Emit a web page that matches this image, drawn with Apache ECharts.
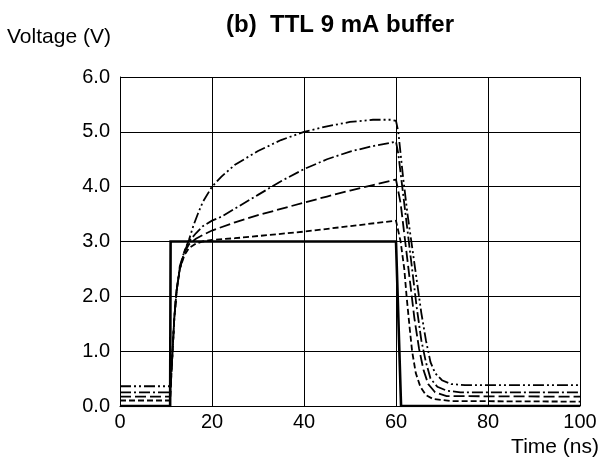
<!DOCTYPE html>
<html>
<head>
<meta charset="utf-8">
<script src="https://cdn.jsdelivr.net/npm/echarts@6/dist/echarts.min.js"></script>
<style>
html,body{margin:0;padding:0;background:#fff;}
#chart{width:600px;height:463px;}
</style>
</head>
<body>
<div id="chart"></div>
<script>
// ---- data ----
var titleText = '(b)  TTL 9 mA buffer';
var xName = 'Time (ns)';
var yName = 'Voltage (V)';
var xTicks = [0, 20, 40, 60, 80, 100];
var yTicks = [0, 1, 2, 3, 4, 5, 6];

// input step (solid)
var inputT = [0, 10.9, 11.0, 60.0, 61.1, 100];
var inputV = [0, 0, 3.0, 3.0, 0, 0];

// short dash
var shortT = [0, 10.9, 11.3, 11.8, 12.3, 13, 14, 15, 16.5, 18, 20, 25, 30, 40, 50, 60, 61, 61.8, 62.3, 63, 63.5, 64.3, 65.3, 66.5, 68, 72, 100];
var shortV = [0.1, 0.1, 0.8, 1.6, 2.1, 2.5, 2.75, 2.88, 2.96, 3.0, 3.03, 3.06, 3.1, 3.18, 3.28, 3.38, 3.0, 2.5, 2.0, 1.4, 1.0, 0.6, 0.35, 0.2, 0.13, 0.09, 0.08];

// long dash
var longT = [0, 10.9, 11.3, 11.8, 12.3, 13, 14, 15, 16.5, 18, 20, 25, 30, 40, 45, 50, 55, 60, 61, 62, 63, 64, 65, 66, 67, 68.5, 71, 100];
var longV = [0.17, 0.17, 0.8, 1.6, 2.1, 2.5, 2.8, 2.95, 3.05, 3.12, 3.2, 3.35, 3.48, 3.71, 3.82, 3.93, 4.03, 4.13, 3.7, 3.0, 2.3, 1.6, 1.05, 0.65, 0.4, 0.25, 0.18, 0.17];

// dash-dot
var ddT = [0, 10.9, 11.3, 11.8, 12.3, 13, 14, 15, 16.5, 18, 20, 22, 25, 30, 35, 40, 45, 50, 55, 60, 60.5, 61.5, 62.5, 63.5, 64.5, 65.5, 66.5, 67.5, 69, 71, 74, 100];
var ddV = [0.25, 0.25, 0.8, 1.6, 2.1, 2.5, 2.82, 3.0, 3.15, 3.28, 3.38, 3.45, 3.6, 3.85, 4.1, 4.32, 4.5, 4.64, 4.74, 4.82, 4.6, 3.9, 3.2, 2.5, 1.8, 1.2, 0.8, 0.5, 0.35, 0.28, 0.25, 0.25];

// dash-dot-dot
var dddT = [0, 10.9, 11.3, 11.8, 12.3, 13, 14, 15, 16, 17, 18, 20, 22, 25, 28, 30, 35, 40, 45, 50, 55, 59, 60, 60.5, 61.5, 62.5, 63.5, 64.5, 65.5, 66.5, 67.5, 68.5, 70, 72, 75, 100];
var dddV = [0.36, 0.36, 0.8, 1.6, 2.1, 2.55, 2.82, 3.03, 3.3, 3.52, 3.72, 4.0, 4.18, 4.4, 4.55, 4.65, 4.85, 5.0, 5.1, 5.18, 5.22, 5.22, 5.2, 5.0, 4.2, 3.5, 2.9, 2.3, 1.7, 1.2, 0.8, 0.6, 0.47, 0.4, 0.38, 0.38];

function pairs(t, v) { return t.map(function (x, i) { return [x, v[i]]; }); }

var font = 'Liberation Sans, Arial, Helvetica, sans-serif';
var chart = echarts.init(document.getElementById('chart'), null, {renderer: 'canvas'});

function lineSeries(name, t, v, type, width) {
  return {
    name: name, type: 'line', data: pairs(t, v), showSymbol: false, symbol: 'none',
    animation: false, silent: true,
    lineStyle: {color: '#000', width: width, type: type, cap: 'butt', join: 'miter'}
  };
}

chart.setOption({
  animation: false,
  backgroundColor: '#fff',
  title: {
    text: titleText, left: 221, top: 8,
    textStyle: {fontFamily: font, fontWeight: 'bold', fontSize: 24, color: '#000'}
  },
  graphic: [
    {type: 'text', left: 7, top: 27, silent: true,
      style: {text: yName, font: '21px ' + font, fill: '#000'}},
    {type: 'text', right: 1, top: 437, silent: true,
      style: {text: xName, font: '21px ' + font, fill: '#000'}}
  ],
  grid: {left: 120, right: 20, top: 77, bottom: 57, containLabel: false},
  xAxis: {
    type: 'value', min: 0, max: 100, interval: 20,
    axisLine: {show: true, lineStyle: {color: '#000', width: 1}},
    axisTick: {show: false},
    axisLabel: {fontFamily: font, fontSize: 20, color: '#000', margin: 6,
      formatter: function (v) { return xTicks.indexOf(v) >= 0 ? String(v) : ''; }},
    splitLine: {show: true, lineStyle: {color: '#000', width: 1}}
  },
  yAxis: {
    type: 'value', min: 0, max: 6, interval: 1,
    axisLine: {show: true, lineStyle: {color: '#000', width: 1}},
    axisTick: {show: false},
    axisLabel: {fontFamily: font, fontSize: 20, color: '#000', margin: 10,
      formatter: function (v) { return yTicks.indexOf(v) >= 0 ? v.toFixed(1) : ''; }},
    splitLine: {show: true, lineStyle: {color: '#000', width: 1}}
  },
  series: [
    lineSeries('input', inputT, inputV, 'solid', 2.6),
    lineSeries('short', shortT, shortV, [6, 3], 1.8),
    lineSeries('long', longT, longV, [11, 4], 1.8),
    lineSeries('dd', ddT, ddV, [11, 3, 2, 3], 1.8),
    lineSeries('ddd', dddT, dddV, [11, 3, 2, 3, 2, 3], 1.8)
  ]
});
</script>
</body>
</html>
